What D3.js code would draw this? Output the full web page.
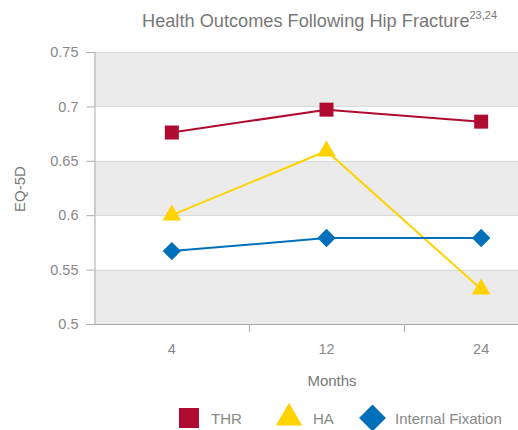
<!DOCTYPE html>
<html><head><meta charset="utf-8">
<script src="https://cdn.jsdelivr.net/npm/d3@7"></script>
<style>body{margin:0;background:#fff;}svg{display:block;font-family:"Liberation Sans",Arial,sans-serif;}</style>
</head><body>
<svg id="c" width="518" height="430"></svg>
<script>
const categories = ["4", "12", "24"];
const thr = [0.676, 0.697, 0.686];
const ha = [0.600, 0.659, 0.532];
const internalFixation = [0.567, 0.579, 0.579];
const yTicks = [0.5, 0.55, 0.6, 0.65, 0.7, 0.75];
const seriesNames = ["THR", "HA", "Internal Fixation"];
const colors = ["#af0a30", "#ffd200", "#0070ba"];

(function () {
const svg = d3.select("#c");
const mLeft = 94.5, mTop = 52, mBottom = 324;
const x = d3.scaleBand().domain(categories).range([mLeft, 558.5]);
const y = d3.scaleLinear().domain([0.5, 0.75]).range([mBottom, mTop]);

// bands
const bands = [[0.7,0.75],[0.6,0.65],[0.5,0.55]];
svg.append("g").selectAll("rect").data(bands).join("rect")
  .attr("x", mLeft).attr("width", 518 - mLeft)
  .attr("y", d => y(d[1])).attr("height", d => y(d[0]) - y(d[1]))
  .attr("fill", "#ebebeb");
svg.append("g").selectAll("line").data(yTicks.slice(1)).join("line")
  .attr("x1", mLeft).attr("x2", 518).attr("y1", d => Math.round(y(d))+0.5).attr("y2", d => Math.round(y(d))+0.5)
  .attr("stroke", "#d9d9d9").attr("stroke-width", 1);

// y axis
const yAxis = svg.append("g").attr("transform", `translate(${mLeft},0)`)
  .call(d3.axisLeft(y).tickValues(yTicks).tickSize(8).tickPadding(8).tickFormat(d => String(+d.toFixed(2))));
yAxis.select(".domain").attr("stroke", "#aaa");
yAxis.selectAll(".tick line").attr("stroke", "#aaa");
yAxis.selectAll(".tick text").attr("fill", "#888").attr("font-size", 14.5);

// x axis
const xAxis = svg.append("g").attr("transform", `translate(0,${mBottom})`)
  .call(d3.axisBottom(x).tickSize(0).tickPadding(20));
xAxis.select(".domain").attr("stroke", "#aaa");
xAxis.selectAll(".tick text").attr("fill", "#888").attr("font-size", 14.5);
svg.append("g").selectAll("line").data(categories.slice(1)).join("line")
  .attr("x1", d => Math.round(x(d))+0.5).attr("x2", d => Math.round(x(d))+0.5)
  .attr("y1", mBottom).attr("y2", mBottom + 8).attr("stroke", "#aaa");

// axis titles
svg.append("text").attr("transform", "translate(25,189) rotate(-90)")
  .attr("text-anchor", "middle").attr("fill", "#777").attr("font-size", 15).text("EQ-5D");
svg.append("text").attr("x", 332).attr("y", 386).attr("text-anchor", "middle")
  .attr("fill", "#777").attr("font-size", 15).text("Months");

// title
const t = svg.append("text").attr("x", 142).attr("y", 27).attr("fill", "#777").attr("font-size", 18.2);
t.append("tspan").text("Health Outcomes Following Hip Fracture");
t.append("tspan").attr("font-size", 11).attr("dy", -8).text("23,24");

// series
const allSeries = [thr, ha, internalFixation];
const symbols = [d3.symbolSquare, d3.symbolTriangle, d3.symbolSquare];
const rot = [0, 0, 45];
const sizes = [196, 150, 169];
const line = d3.line().x((d, i) => x(categories[i]) + x.bandwidth()/2).y(d => y(d));
allSeries.forEach((vals, si) => {
  svg.append("path").attr("d", line(vals)).attr("fill", "none")
    .attr("stroke", colors[si]).attr("stroke-width", 2);
});
allSeries.forEach((vals, si) => {
  svg.append("g").selectAll("path").data(vals).join("path")
    .attr("transform", (d, i) => `translate(${x(categories[i]) + x.bandwidth()/2},${y(d)}) rotate(${rot[si]})`)
    .attr("d", d3.symbol().type(symbols[si]).size(sizes[si]))
    .attr("fill", colors[si]);
});

// legend
const legX = [189, 289, 372.5];
const legSizes = [400, 300, 361];
const legTextX = [211, 313, 395];
seriesNames.forEach((n, i) => {
  svg.append("path").attr("transform", `translate(${legX[i]},${418}) rotate(${rot[i]})`)
    .attr("d", d3.symbol().type(symbols[i]).size(legSizes[i])).attr("fill", colors[i]);
  svg.append("text").attr("x", legTextX[i]).attr("y", 424).attr("fill", "#888")
    .attr("font-size", 15).text(n);
});
})();
</script>
</body></html>
